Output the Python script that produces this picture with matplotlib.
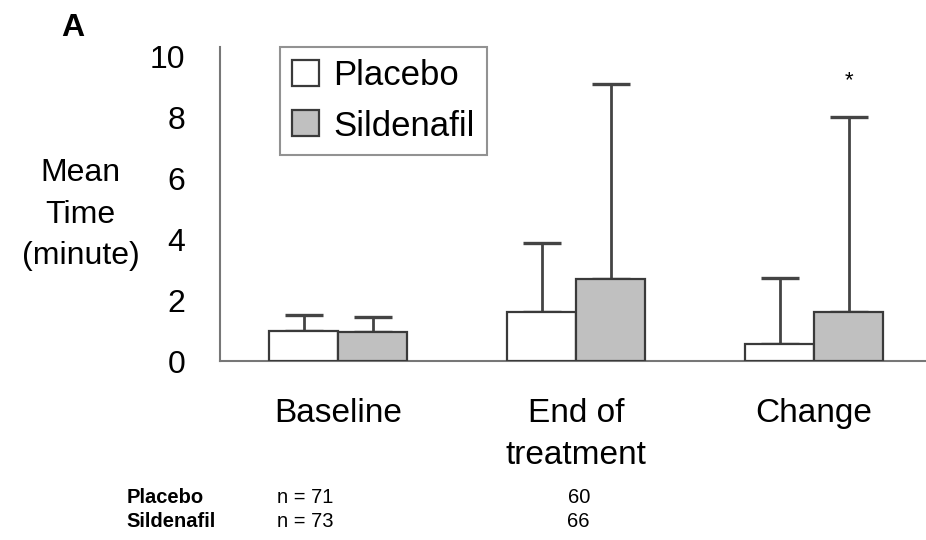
import matplotlib
matplotlib.use("Agg")
import matplotlib.pyplot as plt
import numpy as np

# data
groups = ["Baseline", "End of\ntreatment", "Change"]
placebo_mean = [1.01, 1.63, 0.56]
placebo_err = [0.52, 2.27, 2.17]      # upper error (SD)
sildenafil_mean = [0.98, 2.70, 1.63]
sildenafil_err = [0.47, 6.40, 6.37]
n_placebo = ["n = 71", "60"]
n_sildenafil = ["n = 73", "66"]

plt.rcParams["font.family"] = ["Liberation Sans", "DejaVu Sans"]

fig = plt.figure(figsize=(9.26, 5.4), dpi=100)
ax = fig.add_axes([0.2376, 0.3306, 0.7624, 0.5818])

x = np.arange(len(groups))
w = 0.29
edge = "#3a3a3a"
ax.bar(x - w / 2, placebo_mean, w, color="white", edgecolor=edge, linewidth=1.6,
       label="Placebo", zorder=3)
ax.bar(x + w / 2, sildenafil_mean, w, color="#c0c0c0", edgecolor=edge, linewidth=1.6,
       label="Sildenafil", zorder=3)
ax.errorbar(x - w / 2, placebo_mean, yerr=[np.zeros(3), placebo_err], fmt="none",
            ecolor="#444444", elinewidth=2, capsize=14, capthick=2.4, zorder=2)
ax.errorbar(x + w / 2, sildenafil_mean, yerr=[np.zeros(3), sildenafil_err], fmt="none",
            ecolor="#444444", elinewidth=2, capsize=14, capthick=2.4, zorder=2)

# significance marker
ax.text(x[2] + w / 2, sildenafil_mean[2] + sildenafil_err[2] + 1.2, "*",
        ha="center", va="center", fontsize=16)

ax.set_xlim(-0.496, 2.47)
ax.set_ylim(0, 10.3)
ax.set_yticks([0, 2, 4, 6, 8, 10])
ax.set_xticks(x)
ax.set_xticklabels(groups, fontsize=24, linespacing=1.47)
ax.tick_params(axis="y", length=0, labelsize=23, pad=25)
ax.tick_params(axis="x", length=0, pad=26)
for s in ["top", "right"]:
    ax.spines[s].set_visible(False)
for s in ["left", "bottom"]:
    ax.spines[s].set_color("#777777")
    ax.spines[s].set_linewidth(1.5)

fig.text(0.087, 0.602, "Mean\nTime\n(minute)", ha="center", va="center",
         fontsize=23, linespacing=1.5)
fig.text(0.066, 0.948, "A", fontsize=23, fontweight="bold", ha="left", va="center")

leg = ax.legend(loc="upper left", bbox_to_anchor=(0.085, 1.001), borderaxespad=0,
                fontsize=25, frameon=True, fancybox=False, edgecolor="#777777",
                handlelength=0.78, handleheight=0.78, handletextpad=0.4,
                borderpad=0.35, labelspacing=0.5)
leg.get_frame().set_linewidth(1.5)

# sample sizes under the chart
fs = 14.5
fig.text(0.137, 0.078, "Placebo", fontsize=fs, fontweight="bold", va="center")
fig.text(0.137, 0.035, "Sildenafil", fontsize=fs, fontweight="bold", va="center")
fig.text(0.299, 0.078, n_placebo[0], fontsize=fs, va="center")
fig.text(0.299, 0.035, n_sildenafil[0], fontsize=fs, va="center")
fig.text(0.625, 0.078, n_placebo[1], fontsize=fs, va="center", ha="center")
fig.text(0.625, 0.035, n_sildenafil[1], fontsize=fs, va="center", ha="center")

fig.savefig("out.png", dpi=100)
